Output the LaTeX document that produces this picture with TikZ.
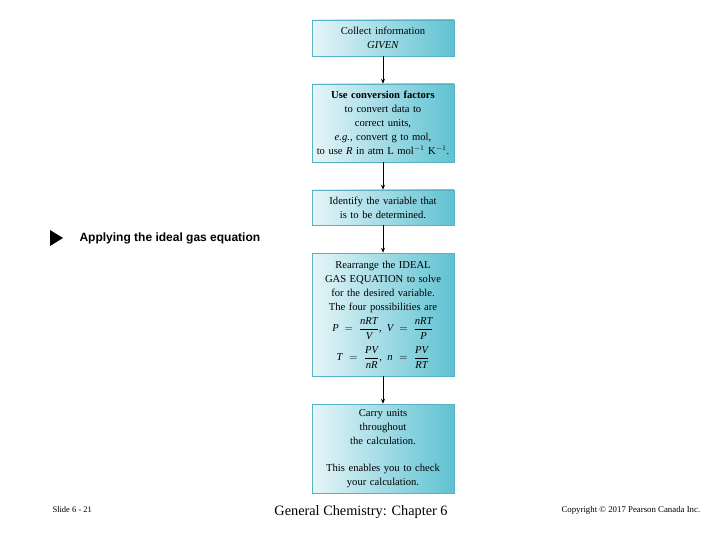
\documentclass[tikz,border=0pt]{standalone}
\usepackage{amsmath,amssymb}
\usepackage{fontspec}
\setmainfont{Liberation Serif}
\newfontfamily\titlefont{Liberation Sans}
\usetikzlibrary{arrows.meta}
\definecolor{stepcyan}{HTML}{5FC2D2}
\definecolor{steppale}{HTML}{E6F5F8}
\definecolor{stepedge}{HTML}{55B3C4}

\tikzset{
  stepbox/.style={draw=stepedge,line width=0.5pt,left color=steppale,right color=stepcyan,
    minimum width=142pt,text width=140pt,align=center,inner sep=0pt,
    font=\fontsize{10.6}{14}\selectfont},
  steparrow/.style={-{Stealth[length=5pt,width=4pt]},line width=0.8pt}
}
\newcommand{\vi}[1]{\textit{#1}}

\begin{document}
\begin{tikzpicture}[x=1pt,y=-1pt]
\useasboundingbox[fill=white] (0,0) rectangle (720,540);
\node[stepbox,minimum height=36pt] (given) at (383,38) {Collect information\\\textit{GIVEN}};
\node[stepbox,minimum height=78pt] (convert) at (383,123) {\textbf{Use conversion factors}\\to convert data to\\correct units,\\\textit{e.g.}, convert g to mol,\\to use \textit{R} in atm L mol$^{-1}$ K$^{-1}$.};
\node[stepbox,minimum height=35pt] (identify) at (383,207.5) {Identify the variable that\\is to be determined.};
\node[stepbox,minimum height=123pt] (rearrange) at (383,314.5) {Rearrange the IDEAL\\GAS EQUATION to solve\\for the desired variable.\\The four possibilities are\\[4pt]
  $\vi{P}=\dfrac{\vi{nRT}}{\vi{V}}$,\enspace $\vi{V}=\dfrac{\vi{nRT}}{\vi{P}}$\\[6pt]
  $\vi{T}=\dfrac{\vi{PV}}{\vi{nR}}$,\enspace $\vi{n}=\dfrac{\vi{PV}}{\vi{RT}}$};
\node[stepbox,minimum height=89pt] (carry) at (383,448.5) {Carry units\\throughout\\the calculation.\\[13pt]This enables you to check\\your calculation.};
\draw[steparrow] (given) -- (convert);
\draw[steparrow] (convert) -- (identify);
\draw[steparrow] (identify) -- (rearrange);
\draw[steparrow] (rearrange) -- (carry);
% heading with bullet
\fill (50,230) -- (63,238) -- (50,246) -- cycle;
\node[anchor=west,font=\titlefont\bfseries\fontsize{12}{14}\selectfont] (heading) at (76,238) {Applying the ideal gas equation};
% footer
\node[anchor=west,font=\fontsize{8.5}{10}\selectfont] (slide) at (49,510) {Slide 6 - 21};
\node[font=\fontsize{14.3}{17}\selectfont] (chapter) at (361,512) {General Chemistry: Chapter 6};
\node[anchor=west,font=\fontsize{8.8}{10}\selectfont] (copy) at (558,510) {Copyright \textcopyright{} 2017 Pearson Canada Inc.};
\end{tikzpicture}
\end{document}
